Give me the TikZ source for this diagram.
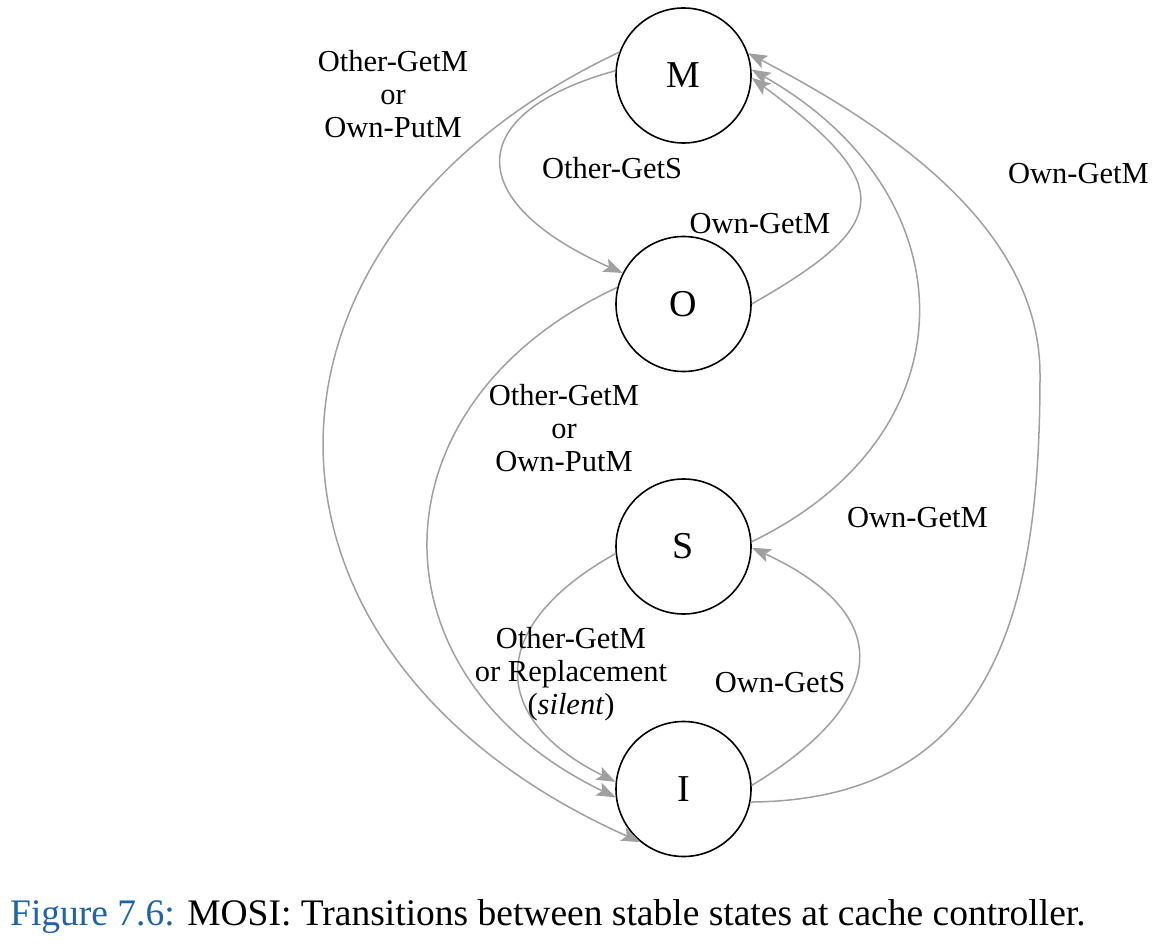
\documentclass[tikz,border=0pt]{standalone}
\usepackage{fontspec}
\setmainfont{Liberation Serif}
\usetikzlibrary{arrows.meta}
\definecolor{edgegray}{RGB}{160,160,160}
\definecolor{capblue}{RGB}{30,100,170}
\tikzset{
  state/.style={circle, draw=black, line width=1.6pt, minimum size=135pt, inner sep=0pt,
    font=\fontsize{38}{40}\selectfont},
  trans/.style={draw=edgegray, line width=1.5pt,
    -{Stealth[length=19pt, width=14pt, inset=4pt]}},
  lbl/.style={inner sep=0pt, align=center, font=\fontsize{30.5}{33}\selectfont}
}
\begin{document}
\begin{tikzpicture}[x=1pt, y=-1pt]
\useasboundingbox (0,0) rectangle (1156,949);
\node[state] (M) at (683.5,75.5) {M};
\node[state] (O) at (683.5,304) {O};
\node[state] (S) at (683.5,546.5) {S};
\node[state] (I) at (683.5,789) {I};

% transitions
\draw[trans] (M.160) .. controls (223,239) and (223,656) .. (I.231);
\draw[trans] (M.176) .. controls (462,113) and (462,202) .. (O.153);
\draw[trans] (O.0) .. controls (890,225) and (900,187) .. (M.-2);
\draw[trans] (O.166) .. controls (366,404) and (366,677) .. (I.187);
\draw[trans] (S.4) .. controls (977,433) and (970,193) .. (M.5);
\draw[trans] (I.-11) .. controls (1000,800) and (1040,600) .. (1040,375)
                     .. controls (1040,240) and (915,140) .. (M.19);
\draw[trans] (S.186) .. controls (487,625) and (487,718) .. (I.174);
\draw[trans] (I.3) .. controls (894,699) and (893,613) .. (S.-1);

% labels
\node[lbl] (l1) at (393,94.5) {Other-GetM\\or\\Own-PutM};
\node[lbl] (l2) at (612,168) {Other-GetS};
\node[lbl] (l3) at (760,224) {Own-GetM};
\node[lbl] (l4) at (1078.5,174) {Own-GetM};
\node[lbl] (l5) at (564,428.5) {Other-GetM\\or\\Own-PutM};
\node[lbl] (l6) at (917.5,518) {Own-GetM};
\node[lbl] (l7) at (571,674.5) {Other-GetM\\or Replacement\\(\textit{silent})};
\node[lbl] (l8) at (780,683) {Own-GetS};

% caption
\node[anchor=base west, inner sep=0pt, font=\fontsize{37.5}{40}\selectfont] (cap) at (10,925)
  {\textcolor{capblue}{Figure 7.6:} MOSI: Transitions between stable states at cache controller.};
\end{tikzpicture}
\end{document}
